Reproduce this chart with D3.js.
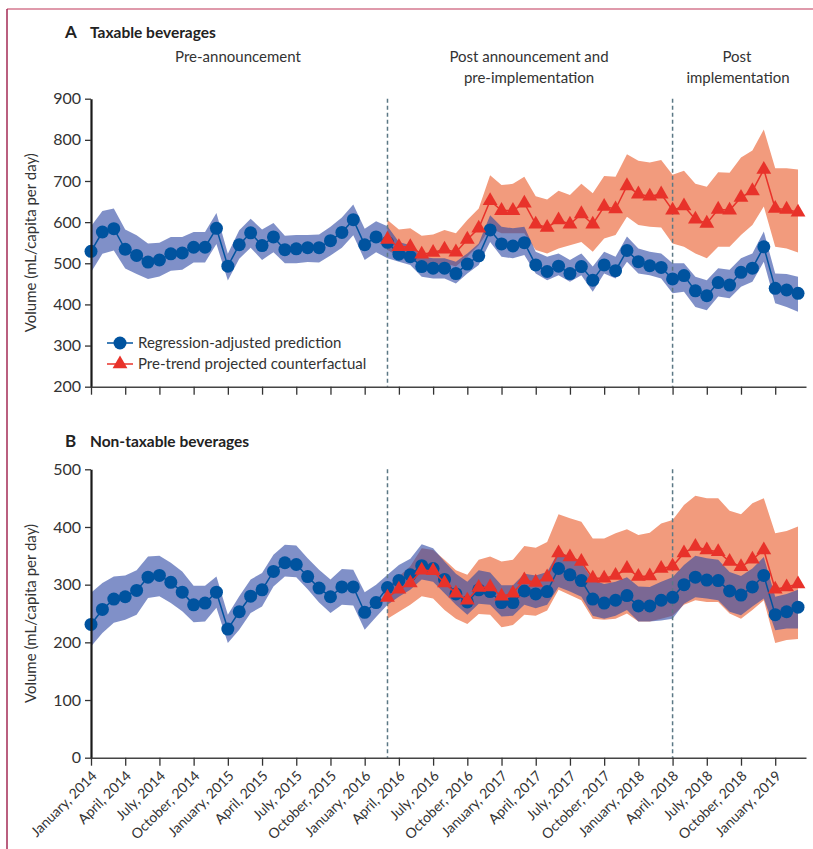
<!DOCTYPE html>
<html>
<head>
<meta charset="utf-8">
<script src="https://cdn.jsdelivr.net/npm/d3@7"></script>
<style>
  body { margin: 0; background: #fff; }
  text { font-family: Lato, "Open Sans", sans-serif; fill: #333; }
</style>
</head>
<body>
<script>
// month index 0 = January 2014, monthly through March 2019
var cfStart = 26;   // counterfactual starts March 2016
var announceMonth = 26;
var implementMonth = 51;

var tickMonths = [0,3,6,9,12,15,18,21,24,27,30,33,36,39,42,45,48,51,54,57,60];
var tickLabels = ["January, 2014","April, 2014","July, 2014","October, 2014",
                  "January, 2015","April, 2015","July, 2015","October, 2015",
                  "January, 2016","April, 2016","July, 2016","October, 2016",
                  "January, 2017","April, 2017","July, 2017","October, 2017",
                  "January, 2018","April, 2018","July, 2018","October, 2018",
                  "January, 2019"];

// A: taxable beverages
var taxPred = [529,576,584,534,519,503,508,523,525,539,539,585,493,545,574,543,564,533,535,538,538,555,575,606,545,564,
               551,522,516,492,488,488,475,498,518,581,547,542,550,496,480,493,475,492,459,496,482,531,504,494,490,462,
               470,433,421,453,447,478,488,540,439,435,427];
var taxPredHi = [590,627,633,582,568,548,550,564,564,576,576,622,523,580,608,582,598,567,569,569,570,589,611,643,584,602,
                 590,552,544,516,512,512,504,524,548,617,589,585,589,528,516,524,508,524,492,528,516,565,536,528,524,500,
                 500,467,459,488,484,512,524,577,475,474,467];
var taxPredLo = [478,523,531,487,474,462,468,482,484,502,502,547,458,511,538,508,527,500,500,503,502,519,538,568,508,527,
                 512,504,496,467,463,463,451,475,496,552,516,512,520,475,459,471,455,471,431,475,463,504,475,471,463,427,
                 431,394,386,419,415,443,455,504,403,394,382];
var taxCf = [558,540,540,522,526,534,527,558,585,652,628,628,646,595,587,605,595,620,595,638,632,688,668,663,668,
             629,639,607,597,631,629,660,676,728,633,631,624];
var taxCfHi = [605,582,585,567,570,581,573,605,633,714,690,693,710,663,655,676,666,693,670,712,710,765,749,745,751,
               715,725,693,686,721,720,757,774,825,731,731,728];
var taxCfLo = [532,516,512,498,496,500,492,516,544,585,573,573,573,532,524,536,544,552,528,560,569,613,593,589,587,
               548,540,524,512,540,540,569,593,638,540,536,526];

// B: non-taxable beverages
var nonPred = [231,257,275,279,290,313,316,304,287,265,268,287,223,253,280,291,323,338,335,314,294,279,296,296,252,269,
               295,307,317,333,328,309,284,270,291,288,269,269,289,284,288,328,317,307,275,268,273,281,263,263,273,278,
               300,313,308,307,289,282,296,316,248,253,261];
var nonPredHi = [286,303,314,316,325,349,350,338,323,298,298,314,248,280,309,320,352,369,368,346,326,309,327,326,287,300,
                 317,334,345,370,363,340,319,305,325,321,299,299,319,316,322,357,348,338,308,301,305,313,297,296,305,313,
                 334,350,346,343,322,315,328,348,279,284,291];
var nonPredLo = [193,216,234,239,248,277,280,268,254,235,236,260,199,222,251,262,297,314,313,292,269,251,265,264,222,244,
                 265,279,291,309,305,285,265,248,267,265,245,246,265,259,265,296,288,279,246,241,246,256,236,236,238,241,
                 267,278,276,273,253,247,262,276,221,224,224];
var nonCf = [278,292,303,325,324,303,285,273,295,296,280,285,308,304,313,355,348,340,311,311,316,328,314,315,328,
             332,355,366,360,357,340,331,344,360,292,296,301];
var nonCfHi = [296,314,332,363,360,343,325,317,343,349,340,343,367,364,374,422,415,409,380,380,389,396,386,390,406,
               412,438,454,450,450,428,422,441,450,389,393,401];
var nonCfLo = [241,253,265,280,276,256,241,232,249,248,226,230,248,246,255,291,282,273,241,239,241,250,236,236,241,
               246,265,273,270,270,250,241,256,273,199,204,206];

var blue = "#00539f";
var red = "#e8322a";

var svg = d3.select("body").append("svg")
            .attr("width", 813)
            .attr("height", 849);

// frame lines
svg.append("line").attr("x1", 7).attr("x2", 813).attr("y1", 9).attr("y2", 9)
   .attr("stroke", "#d4788f").attr("stroke-width", 1.5);
svg.append("line").attr("x1", 7).attr("x2", 7).attr("y1", 9).attr("y2", 849)
   .attr("stroke", "#a32a55").attr("stroke-width", 1.5);

var x = d3.scaleLinear().domain([0, 62.7]).range([91, 806]);

function drawPanel(opts) {
    var y = opts.y;
    var g = svg.append("g");

    g.append("text").attr("x", 65).attr("y", opts.titleY)
     .style("font-size", "17px").style("font-weight", "bold").style("fill", "#222")
     .text(opts.letter);
    g.append("text").attr("x", 90).attr("y", opts.titleY)
     .style("font-size", "15.5px").style("font-weight", "bold").style("fill", "#222")
     .text(opts.title);

    var months = d3.range(taxPred.length);
    var cfMonths = d3.range(cfStart, cfStart + opts.cf.length);

    var area = d3.area()
                 .x(function(d){ return x(d.m); })
                 .y0(function(d){ return y(d.lo); })
                 .y1(function(d){ return y(d.hi); });

    var cfBand = cfMonths.map(function(m, i){ return {m: m, lo: opts.cfLo[i], hi: opts.cfHi[i]}; });
    var predBand = months.map(function(m, i){ return {m: m, lo: opts.predLo[i], hi: opts.predHi[i]}; });

    g.append("path").datum(cfBand).attr("d", area).attr("fill", "#f29b7d");
    g.append("path").datum(predBand).attr("d", area)
     .attr("fill", "#2b46a3").attr("fill-opacity", 0.6);

    // period dividers
    [announceMonth, implementMonth].forEach(function(m){
        g.append("line")
         .attr("x1", x(m)).attr("x2", x(m))
         .attr("y1", y.range()[1]).attr("y2", y.range()[0])
         .attr("stroke", "#5b7885").attr("stroke-width", 1.5)
         .attr("stroke-dasharray", "4,3");
    });

    var line = d3.line()
                 .x(function(d){ return x(d.m); })
                 .y(function(d){ return y(d.v); });

    var predPts = months.map(function(m, i){ return {m: m, v: opts.pred[i]}; });
    var cfPts = cfMonths.map(function(m, i){ return {m: m, v: opts.cf[i]}; });

    g.append("path").datum(predPts).attr("d", line)
     .attr("fill", "none").attr("stroke", blue).attr("stroke-width", 1.5);
    g.selectAll(".pred").data(predPts).enter().append("circle")
     .attr("class", "pred")
     .attr("cx", function(d){ return x(d.m); })
     .attr("cy", function(d){ return y(d.v); })
     .attr("r", 6.5)
     .attr("fill", blue);

    g.append("path").datum(cfPts).attr("d", line)
     .attr("fill", "none").attr("stroke", red).attr("stroke-width", 1.5);
    g.selectAll(".cf").data(cfPts).enter().append("path")
     .attr("class", "cf")
     .attr("d", d3.symbol().type(d3.symbolTriangle).size(95))
     .attr("transform", function(d){ return "translate(" + x(d.m) + "," + y(d.v) + ")"; })
     .attr("fill", red);

    // axes
    var yAxis = d3.axisLeft(y).tickValues(opts.yTicks).tickSize(6).tickSizeOuter(0).tickPadding(4);
    var yg = g.append("g").attr("transform", "translate(91,0)").call(yAxis);
    yg.select(".domain").attr("stroke", "#1a1a1a").attr("stroke-width", 2.2);
    yg.selectAll(".tick line").attr("stroke", "#333").attr("stroke-width", 1.3);
    yg.selectAll("text").style("font-size", "16px").style("font-family", "Lato, sans-serif").attr("fill", "#333");

    var xAxis = d3.axisBottom(x).tickValues(tickMonths).tickSize(8).tickSizeOuter(0);
    if (!opts.showLabels) {
        xAxis.tickFormat("");
    } else {
        xAxis.tickFormat(function(d, i){ return tickLabels[i]; });
    }
    var xg = g.append("g").attr("transform", "translate(0," + y.range()[0] + ")").call(xAxis);
    xg.select(".domain").attr("stroke", "#444").attr("stroke-width", 1.5);
    xg.selectAll(".tick line").attr("stroke", "#333").attr("stroke-width", 1.3);
    if (opts.showLabels) {
        xg.selectAll("text")
          .style("text-anchor", "end")
          .style("font-size", "14px")
          .style("font-family", "Lato, sans-serif")
          .attr("fill", "#333")
          .attr("x", -9)
          .attr("y", 13)
          .attr("dy", "0.35em")
          .attr("transform", "rotate(-45)");
    }

    var yMid = (y.range()[0] + y.range()[1]) / 2;
    g.append("text")
     .attr("transform", "translate(36," + yMid + ") rotate(-90)")
     .attr("text-anchor", "middle")
     .style("font-size", "15px")
     .text("Volume (mL/capita per day)");
}

drawPanel({
    letter: "A", title: "Taxable beverages", titleY: 38,
    y: d3.scaleLinear().domain([200, 900]).range([386.7, 98.7]),
    yTicks: [200,300,400,500,600,700,800,900],
    pred: taxPred, predHi: taxPredHi, predLo: taxPredLo,
    cf: taxCf, cfHi: taxCfHi, cfLo: taxCfLo,
    showLabels: false
});

drawPanel({
    letter: "B", title: "Non-taxable beverages", titleY: 447,
    y: d3.scaleLinear().domain([0, 500]).range([757.7, 469.3]),
    yTicks: [0,100,200,300,400,500],
    pred: nonPred, predHi: nonPredHi, predLo: nonPredLo,
    cf: nonCf, cfHi: nonCfHi, cfLo: nonCfLo,
    showLabels: true
});

// period headings (panel A)
var headings = [
    {x: 238, y: 62, t: "Pre-announcement"},
    {x: 529, y: 62, t: "Post announcement and"},
    {x: 529, y: 83, t: "pre-implementation"},
    {x: 737, y: 62, t: "Post"},
    {x: 738, y: 83, t: "implementation"}
];
svg.selectAll(".heading").data(headings).enter().append("text")
   .attr("class", "heading")
   .attr("x", function(d){ return d.x; })
   .attr("y", function(d){ return d.y; })
   .attr("text-anchor", "middle")
   .style("font-size", "15px")
   .text(function(d){ return d.t; });

// legend
var legend = svg.append("g").attr("transform", "translate(107,343)");
legend.append("line").attr("x1", 0).attr("x2", 26).attr("y1", 0).attr("y2", 0)
      .attr("stroke", blue).attr("stroke-width", 1.5);
legend.append("circle").attr("cx", 13).attr("cy", 0).attr("r", 6.5).attr("fill", blue);
legend.append("text").attr("x", 31).attr("y", 5).style("font-size", "15px")
      .text("Regression-adjusted prediction");
legend.append("line").attr("x1", 0).attr("x2", 26).attr("y1", 21).attr("y2", 21)
      .attr("stroke", red).attr("stroke-width", 1.5);
legend.append("path").attr("d", d3.symbol().type(d3.symbolTriangle).size(95))
      .attr("transform", "translate(13,21)").attr("fill", red);
legend.append("text").attr("x", 31).attr("y", 26).style("font-size", "15px")
      .text("Pre-trend projected counterfactual");
</script>
</body>
</html>
